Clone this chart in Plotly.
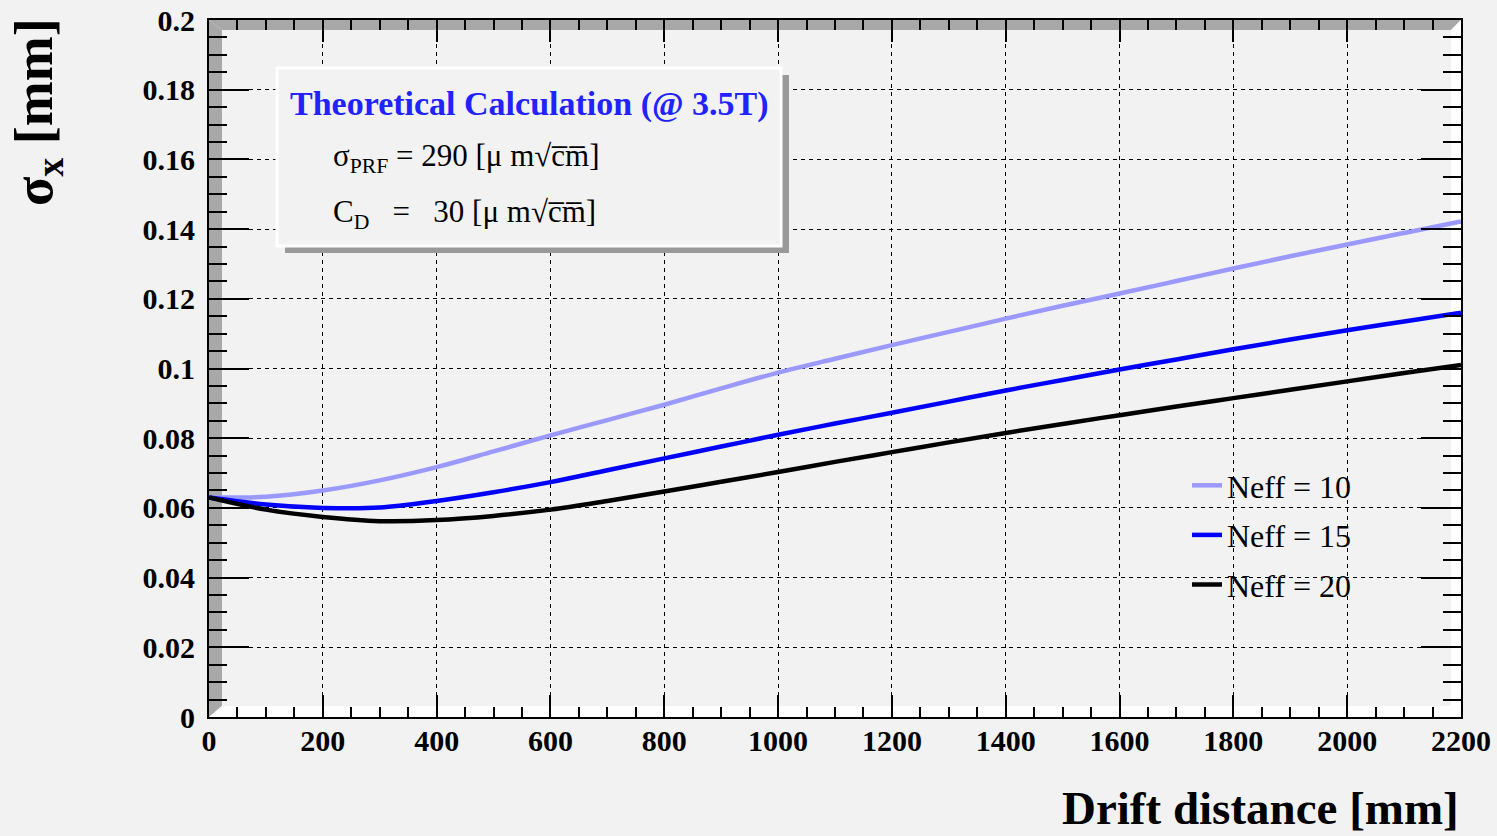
import plotly.graph_objects as go

# ---------------- data ----------------
DRIFT_MM = [0, 100, 200, 300, 400, 500, 600, 700, 800, 900, 1000, 1100,
            1200, 1300, 1400, 1500, 1600, 1700, 1800, 1900, 2000, 2100, 2200]

SIGMA_NEFF10 = [0.0630, 0.0632, 0.0650, 0.0679, 0.0717, 0.0762, 0.0808, 0.0852,
                0.0896, 0.0943, 0.0988, 0.1028, 0.1067, 0.1105, 0.1143, 0.1180,
                0.1215, 0.1251, 0.1287, 0.1322, 0.1356, 0.1389, 0.1422]
SIGMA_NEFF15 = [0.0630, 0.0610, 0.0600, 0.0601, 0.0620, 0.0645, 0.0674, 0.0708,
                0.0742, 0.0776, 0.0810, 0.0842, 0.0873, 0.0905, 0.0937, 0.0967,
                0.0997, 0.1026, 0.1055, 0.1083, 0.1110, 0.1135, 0.1160]
SIGMA_NEFF20 = [0.0630, 0.0595, 0.0574, 0.0562, 0.0565, 0.0577, 0.0595, 0.0620,
                0.0647, 0.0675, 0.0703, 0.0732, 0.0760, 0.0788, 0.0815, 0.0841,
                0.0866, 0.0891, 0.0915, 0.0939, 0.0963, 0.0987, 0.1010]

SERIES_NAMES = ["Neff = 10", "Neff = 15", "Neff = 20"]

X_TICKS = [0, 200, 400, 600, 800, 1000, 1200, 1400, 1600, 1800, 2000, 2200]
X_TICK_LABELS = ["0", "200", "400", "600", "800", "1000", "1200", "1400",
                 "1600", "1800", "2000", "2200"]
Y_TICKS = [0, 0.02, 0.04, 0.06, 0.08, 0.10, 0.12, 0.14, 0.16, 0.18, 0.20]
Y_TICK_LABELS = ["0", "0.02", "0.04", "0.06", "0.08", "0.1", "0.12", "0.14",
                 "0.16", "0.18", "0.2"]

# ---------------- style ----------------
BG = "#f2f2f2"
SERIF = "Liberation Serif"
COLORS = ["#9999ff", "#0000ff", "#000000"]

fig = go.Figure()
for name, ys, col in zip(SERIES_NAMES, [SIGMA_NEFF10, SIGMA_NEFF15, SIGMA_NEFF20], COLORS):
    fig.add_trace(go.Scatter(
        x=DRIFT_MM, y=ys, mode="lines", name=name, legendgroup=name,
        line=dict(color=col, width=4.5, shape="spline", smoothing=1.0),
    ))

axis_common = dict(
    showline=True, linecolor="black", linewidth=2, mirror="ticks",
    ticks="inside", tickcolor="black", tickwidth=2,
    showgrid=True, gridcolor="black", gridwidth=1.3, griddash="4px,4px",
    zeroline=False,
    tickfont=dict(family=SERIF, size=30, color="black", weight="bold"),
)

fig.update_xaxes(
    range=[0, 2200], tickmode="array", tickvals=X_TICKS, ticktext=X_TICK_LABELS,
    ticklen=22, minor=dict(ticks="inside", ticklen=10, tickcolor="black",
                           tickwidth=2, dtick=50, showgrid=False),
    ticklabelstandoff=-4,
    **axis_common,
)
fig.update_yaxes(
    range=[0, 0.2], tickmode="array", tickvals=Y_TICKS, ticktext=Y_TICK_LABELS,
    ticklen=40, minor=dict(ticks="inside", ticklen=18, tickcolor="black",
                           tickwidth=2, dtick=0.005, showgrid=False),
    ticklabelstandoff=6,
    **axis_common,
)

# ---------------- frame bevel (ROOT-like) ----------------
W, H = 1252.0, 697.0
a, b, c, d = 13 / W, 10 / H, 11 / H, 10 / W
shapes = [
    dict(type="path", xref="paper", yref="paper", layer="below",
         path=f"M0,0 L0,1 L{a},{1-b} L{a},{c} Z", fillcolor="#a8a8a8", line=dict(width=0)),
    dict(type="path", xref="paper", yref="paper", layer="below",
         path=f"M0,1 L1,1 L{1-d},{1-b} L{a},{1-b} Z", fillcolor="#a8a8a8", line=dict(width=0)),
    dict(type="path", xref="paper", yref="paper", layer="below",
         path=f"M0,0 L1,0 L{1-d},{c} L{a},{c} Z", fillcolor="#ffffff", line=dict(width=0)),
    dict(type="path", xref="paper", yref="paper", layer="below",
         path=f"M1,0 L1,1 L{1-d},{1-b} L{1-d},{c} Z", fillcolor="#ffffff", line=dict(width=0)),
]

# ---------------- text box with shadow ----------------
bx0, bx1 = (277 - 209) / W, (781 - 209) / W
by1, by0 = (717 - 68) / H, (717 - 246) / H
sx, sy = 8 / W, 7 / H
shapes += [
    dict(type="rect", xref="paper", yref="paper", layer="above",
         x0=bx0 + sx, x1=bx1 + sx, y0=by0 - sy, y1=by1 - sy,
         fillcolor="#9a9a9a", line=dict(width=0)),
    dict(type="rect", xref="paper", yref="paper", layer="above",
         x0=bx0, x1=bx1, y0=by0, y1=by1,
         fillcolor=BG, line=dict(color="#ffffff", width=3)),
]
fig.update_layout(shapes=shapes)

annotations = [
    dict(text="Theoretical Calculation (@ 3.5T)", xref="paper", yref="paper",
         x=(288 - 209) / W, y=(717 - 104) / H, xanchor="left", yanchor="middle",
         showarrow=False, font=dict(family=SERIF, size=34, color="#2222ff", weight="bold")),
    dict(text="σ<sub>PRF</sub> = 290 [μ m√c\u0305m\u0305]", xref="paper", yref="paper",
         x=(331 - 209) / W, y=(717 - 158) / H, xanchor="left", yanchor="middle",
         showarrow=False, font=dict(family=SERIF, size=31, color="black")),
    dict(text="C<sub>D</sub>   =   30 [μ m√c\u0305m\u0305]", xref="paper", yref="paper",
         x=(331 - 209) / W, y=(717 - 214) / H, xanchor="left", yanchor="middle",
         showarrow=False, font=dict(family=SERIF, size=31, color="black")),
    dict(text="Drift distance [mm]", xref="paper", yref="paper",
         x=1.0, y=(717 - 808) / H, xanchor="right", yanchor="middle",
         showarrow=False, font=dict(family=SERIF, size=47, color="black", weight="bold")),
    dict(text="σ<sub>x</sub> [mm]", xref="paper", yref="paper", textangle=-90,
         x=(38 - 209) / W, y=(717 - 16) / H, xanchor="center", yanchor="top",
         showarrow=False, font=dict(family=SERIF, size=54, color="black", weight="bold")),
]
fig.update_layout(annotations=annotations)

fig.update_layout(
    width=1497, height=836,
    margin=dict(l=209, r=36, t=20, b=119, autoexpand=False),
    paper_bgcolor=BG, plot_bgcolor=BG,
    showlegend=True,
    legend=dict(x=(1187 - 209) / W, y=(717 - 458) / H, xanchor="left", yanchor="top",
                bgcolor="rgba(0,0,0,0)", borderwidth=0, tracegroupgap=5,
                font=dict(family=SERIF, size=32, color="black"),
                itemwidth=30),
)

fig.write_html("out.html")
